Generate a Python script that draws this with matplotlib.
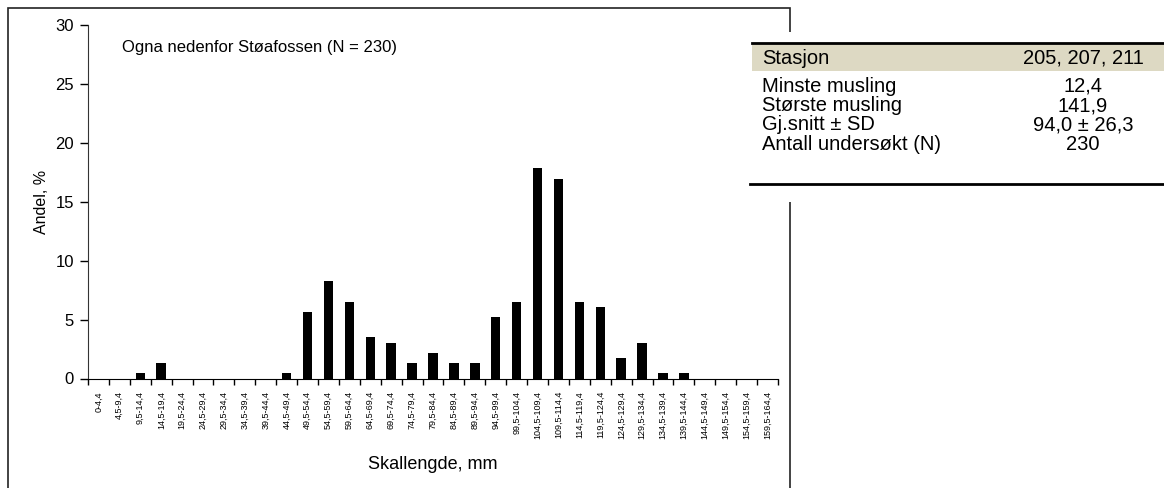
import matplotlib.pyplot as plt
import matplotlib.patches as patches

plt.rcParams['font.family'] = ['Liberation Sans', 'DejaVu Sans']

# Lengdeklasser (mm) og andel (%)
klasser = ['0-4,4', '4,5-9,4', '9,5-14,4', '14,5-19,4', '19,5-24,4', '24,5-29,4',
           '29,5-34,4', '34,5-39,4', '39,5-44,4', '44,5-49,4', '49,5-54,4', '54,5-59,4',
           '59,5-64,4', '64,5-69,4', '69,5-74,4', '74,5-79,4', '79,5-84,4', '84,5-89,4',
           '89,5-94,4', '94,5-99,4', '99,5-104,4', '104,5-109,4', '109,5-114,4',
           '114,5-119,4', '119,5-124,4', '124,5-129,4', '129,5-134,4', '134,5-139,4',
           '139,5-144,4', '144,5-149,4', '149,5-154,4', '154,5-159,4', '159,5-164,4']
andel = [0, 0, 0.43, 1.30, 0, 0, 0, 0, 0, 0.43, 5.65, 8.26, 6.52, 3.48, 3.04, 1.30,
         2.17, 1.30, 1.30, 5.22, 6.52, 17.83, 16.96, 6.52, 6.09, 1.74, 3.04, 0.43,
         0.43, 0, 0, 0, 0]

tabell_navn = ['Minste musling', 'Største musling', 'Gj.snitt ± SD', 'Antall undersøkt (N)']
tabell_verdi = ['12,4', '141,9', '94,0 ± 26,3', '230']

W, H = 1164, 488
fig = plt.figure(figsize=(W / 100, H / 100), dpi=100)

def fx(px):
    return px / W

def fy(py):
    return 1 - py / H

# Ramme rundt diagrammet
fig.patches.append(patches.Rectangle((fx(8), -0.05), fx(790) - fx(8), fy(8) + 0.05,
                                     transform=fig.transFigure, fill=False,
                                     edgecolor='#222222', linewidth=1.2, zorder=0))

ax = fig.add_axes([fx(88), fy(378.5), fx(778) - fx(88), fy(25) - fy(378.5)])
x = [i + 0.5 for i in range(len(klasser))]
ax.bar(x, andel, width=0.45, color='black')
ax.set_xlim(0, len(klasser))
ax.set_ylim(0, 30)
ax.set_yticks(range(0, 31, 5))
ax.tick_params(axis='y', labelsize=12, length=6, width=1, direction='out', pad=4)
ax.set_xticks(range(len(klasser) + 1))
ax.set_xticklabels([])
ax.tick_params(axis='x', which='major', length=4, width=1, direction='out')
ax.set_xticks(x, minor=True)
ax.set_xticklabels(klasser, minor=True, rotation=90, fontsize=6.5)
ax.tick_params(axis='x', which='minor', length=0, pad=9)
for s in ['top', 'right']:
    ax.spines[s].set_visible(False)
ax.spines['left'].set_color('#333333')
ax.set_ylabel('Andel, %', fontsize=11.5, labelpad=5)
ax.set_xlabel('Skallengde, mm', fontsize=13, labelpad=12)
ax.text(0.05, 0.935, 'Ogna nedenfor Støafossen (N = 230)', transform=ax.transAxes,
        fontsize=12, va='center', ha='left')

# Tabell til høyre
fig.patches.append(patches.Rectangle((fx(740), fy(202)), 1 - fx(740), fy(32) - fy(202),
                                     transform=fig.transFigure, facecolor='white',
                                     edgecolor='none', zorder=1))
fig.patches.append(patches.Rectangle((fx(752), fy(71)), 1 - fx(752), fy(43) - fy(71),
                                     transform=fig.transFigure, facecolor='#DDD9C3',
                                     edgecolor='none', zorder=2))
fig.add_artist(plt.Line2D([fx(752), 1], [fy(43), fy(43)], color='black', linewidth=2,
                          transform=fig.transFigure, zorder=3))
fig.add_artist(plt.Line2D([fx(750), 1], [fy(184), fy(184)], color='black', linewidth=2,
                          transform=fig.transFigure, zorder=3))
fig.text(fx(762), fy(58), 'Stasjon', fontsize=14.5, va='center', ha='left', zorder=4)
fig.text(fx(1083), fy(58), '205, 207, 211', fontsize=14.5, va='center', ha='center', zorder=4)
rad_y = [86.5, 105.5, 125, 144]
for yy, navn, verdi in zip(rad_y, tabell_navn, tabell_verdi):
    fig.text(fx(762), fy(yy), navn, fontsize=14.5, va='center', ha='left', zorder=4)
    fig.text(fx(1083), fy(yy), verdi, fontsize=14.5, va='center', ha='center', zorder=4)

fig.savefig('out.png', dpi=100)
